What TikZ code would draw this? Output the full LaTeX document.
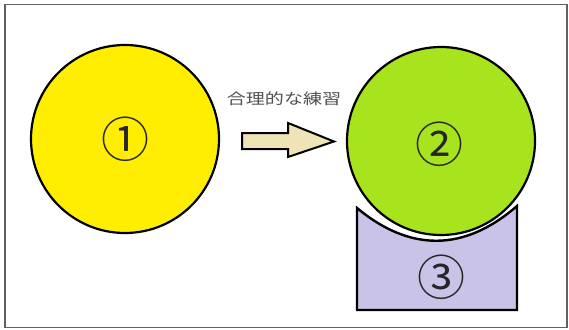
\documentclass[tikz,border=0pt]{standalone}
\usepackage{fontspec}
\newfontfamily\cjk{Noto Sans CJK JP}
\definecolor{cyel}{HTML}{FFEE00}
\definecolor{cgrn}{HTML}{A8E41E}
\definecolor{cpur}{HTML}{C9C3E8}
\definecolor{cbei}{HTML}{EEE4B6}
\definecolor{ctxt}{HTML}{505050}
\definecolor{cfrm}{HTML}{606060}
\begin{document}
\begin{tikzpicture}[x=1pt,y=-1pt,
  disc/.style={circle,draw=black,line width=2.2pt,minimum size=188pt,inner sep=0pt},
  num/.style={font=\cjk\fontsize{48}{48}\selectfont,text=black!85},
  outl/.style={draw=black,line width=2.4pt,line join=miter}]
\useasboundingbox (0,0) rectangle (569,329);
\fill[white] (0,0) rectangle (569,329);
\draw[cfrm,line width=1.2pt] (5,4.5) rectangle (567,327.5);
% box 3
\coordinate (btl) at (357,208);
\coordinate (btr) at (517,206);
\coordinate (bbr) at (517,310);
\coordinate (bbl) at (357,310);
\draw[outl,fill=cpur] (btl) .. controls (410,252) and (464,252) .. (btr) -- (bbr) -- (bbl) -- cycle;
\node[num] (n3) at (441,277) {③};
% circles
\node[disc,fill=cyel] (c1) at (125,139) {};
\node[num] at (c1.center) (n1) {①};
\node[disc,fill=cgrn] (c2) at (441,141) {};
\node[num] at (439,144) (n2) {②};
% arrow
\draw[outl,fill=cbei,line width=2pt] (242,133) -- (288,133) -- (288,123) -- (334,141.5) -- (288,157) -- (288,149) -- (242,149) -- cycle;
\node[font=\cjk\fontsize{15}{15}\selectfont,text=ctxt,xscale=1.27,transform shape] (lbl) at (284,99) {合理的な練習};
\end{tikzpicture}
\end{document}
